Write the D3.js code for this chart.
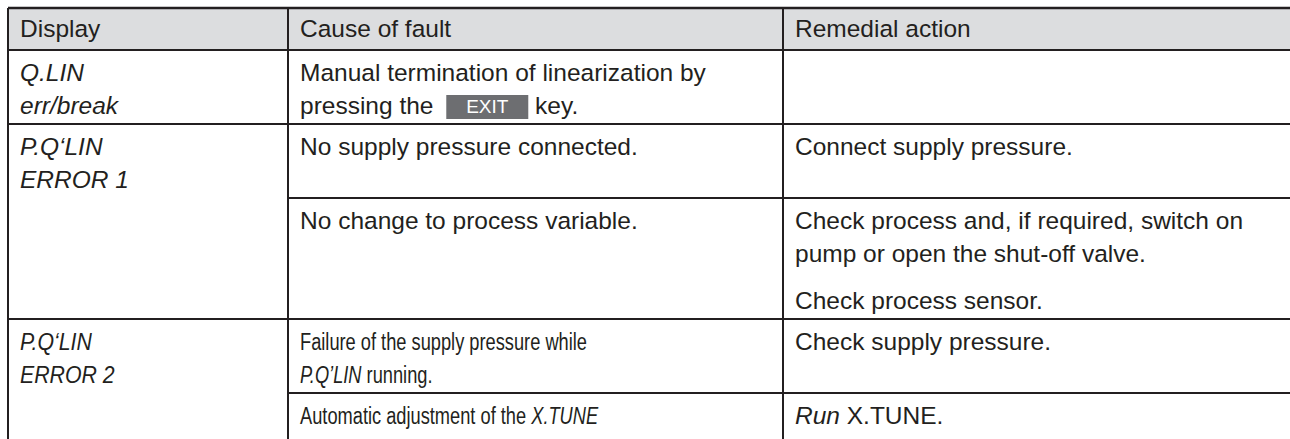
<!DOCTYPE html>
<html>
<head>
<meta charset="utf-8">
<script src="https://cdn.jsdelivr.net/npm/d3@7"></script>
<style>
  html, body { margin: 0; padding: 0; background: #ffffff; }
  svg { display: block; }
  text { white-space: pre; }
</style>
</head>
<body>
<svg id="chart" width="1290" height="439"></svg>
<script>
// ---------------- DATA ----------------
const headers = ["Display", "Cause of fault", "Remedial action"];

// one entry per fault group; *text* = italic, [EXIT] = key symbol
const displays = [
  ["*Q.LIN*", "*err/break*"],
  ["*P.Q‘LIN*", "*ERROR 1*"],
  ["*P.Q‘LIN*", "*ERROR 2*"]
];

// causes per group: list of sub-rows, each sub-row = list of lines
const causes = [
  [["Manual termination of linearization by", "pressing the [EXIT] key."]],
  [["No supply pressure connected."], ["No change to process variable."]],
  [["Failure of the supply pressure while", "*P.Q’LIN* running."],
   ["Automatic adjustment of the *X.TUNE*", "position controller not run."]]
];

// remedies per group: list of sub-rows, each sub-row = list of paragraphs (list of lines)
const remedies = [
  [[]],
  [[["Connect supply pressure."]],
   [["Check process and, if required, switch on", "pump or open the shut-off valve."], ["Check process sensor."]]],
  [[["Check supply pressure."]],
   [["*Run* X.TUNE."]]]
];

// ---------------- LAYOUT ----------------
const W = 1290, H = 439;
const svg = d3.select("#chart");
const ink = "#231f20";
const fontFam = "'Liberation Sans', Arial, Helvetica, sans-serif";
const fontSize = 24.5;
// the last group is set in a narrower type in the display and cause columns
const narrowGroup = 2, narrowDisplay = 0.87, narrowCause = 0.745;

const colEdges = [8, 288, 783, 1300];
const x = d3.scaleOrdinal().domain(headers).range(colEdges.slice(0, 3));
const padX = 12;
const tableTop = 8, headerBottom = 50;
const firstBase = 31, lineGap = 33, paraGap = 47, bottomPad = 10, minRow = 51;

function contentHeight(paras) {
  let h = firstBase;
  const ps = paras.filter(p => p.length);
  if (!ps.length) return 0;
  ps.forEach((p, i) => {
    if (i > 0) h += paraGap;
    h += (p.length - 1) * lineGap;
  });
  return h + bottomPad;
}

// header background
svg.append("rect").attr("x", colEdges[0]).attr("y", tableTop)
  .attr("width", W - colEdges[0]).attr("height", headerBottom - tableTop)
  .attr("fill", "#dcdddf");

const textLayer = svg.append("g");
const lineLayer = svg.append("g");

function parseSegments(line) {
  const segs = [];
  const re = /(\*[^*]+\*|\[EXIT\])/g;
  let last = 0, m;
  while ((m = re.exec(line)) !== null) {
    if (m.index > last) segs.push({ t: line.slice(last, m.index), it: false });
    if (m[0] === "[EXIT]") segs.push({ key: "EXIT" });
    else segs.push({ t: m[0].slice(1, -1), it: true });
    last = m.index + m[0].length;
  }
  if (last < line.length) segs.push({ t: line.slice(last), it: false });
  return segs;
}

function drawLine(line, x0, y0, sx) {
  const g = textLayer.append("g")
    .attr("transform", `translate(${x0},${y0}) scale(${sx},1)`);
  let cx = 0;
  parseSegments(line).forEach(s => {
    if (s.key) {
      const bw = 82, bh = 24;
      const bx = cx + 6;
      g.append("rect").attr("x", bx).attr("y", -19)
        .attr("width", bw).attr("height", bh).attr("fill", "#6d6e71");
      g.append("text").attr("x", bx + bw / 2).attr("y", -1)
        .attr("text-anchor", "middle").attr("font-family", fontFam)
        .attr("font-size", 19).attr("fill", "#ffffff").text(s.key);
      cx = bx + bw;
    } else {
      const t = g.append("text").attr("x", cx).attr("y", 0)
        .attr("font-family", fontFam).attr("font-size", fontSize)
        .attr("font-style", s.it ? "italic" : "normal")
        .attr("fill", ink).text(s.t);
      cx += t.node().getComputedTextLength();
    }
  });
}

function drawParas(paras, x0, top, sx) {
  let y = top + firstBase;
  paras.forEach((p, i) => {
    if (i > 0) y += paraGap;
    p.forEach((ln, j) => {
      if (j > 0) y += lineGap;
      drawLine(ln, x0, y, sx);
    });
  });
}

// header text
headers.forEach(h => drawLine(h, x(h) + padX, tableTop + 29, 1));

const hLines = [{ y: tableTop, x1: colEdges[0], w: 2.6 }, { y: headerBottom, x1: colEdges[0], w: 2 }];

let y = headerBottom;
displays.forEach((disp, g) => {
  const groupTop = y;
  const narrow = g === narrowGroup;
  causes[g].forEach((cLines, k) => {
    const rParas = remedies[g][k] || [];
    const h = Math.max(minRow, contentHeight([cLines]), contentHeight(rParas),
      k === 0 ? contentHeight([disp]) : 0);
    drawParas([cLines], x(headers[1]) + padX, y, narrow ? narrowCause : 1);
    drawParas(rParas, x(headers[2]) + padX, y, 1);
    y += h;
    if (k < causes[g].length - 1) hLines.push({ y: y, x1: colEdges[1], w: 2 });
  });
  drawParas([disp], x(headers[0]) + padX, groupTop, narrow ? narrowDisplay : 1);
  hLines.push({ y: y, x1: colEdges[0], w: 2 });
});

lineLayer.selectAll("line.h").data(hLines).join("line").attr("class", "h")
  .attr("x1", d => d.x1).attr("x2", W).attr("y1", d => d.y).attr("y2", d => d.y)
  .attr("stroke", ink).attr("stroke-width", d => d.w);

lineLayer.selectAll("line.v").data(colEdges.slice(0, 3)).join("line").attr("class", "v")
  .attr("x1", d => d).attr("x2", d => d).attr("y1", tableTop).attr("y2", H + 5)
  .attr("stroke", ink).attr("stroke-width", 2);
</script>
</body>
</html>
